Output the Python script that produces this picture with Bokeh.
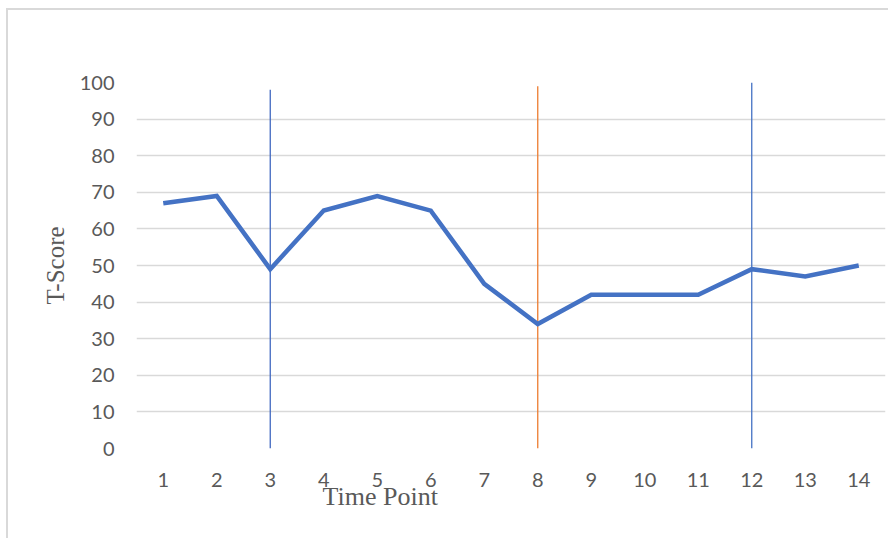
from bokeh.plotting import figure
from bokeh.models import Range1d, FixedTicker, Title, ColumnDataSource
from bokeh.embed import file_html
from bokeh.resources import INLINE

# T-scores recorded at each time point
time_points = list(range(1, 15))
t_scores = [67, 69, 49, 65, 69, 65, 45, 34, 42, 42, 42, 49, 47, 50]

# Phase-change markers: time point, top of marker, colour
marker_points = [3, 8, 12]
marker_tops = [98, 99, 100]
marker_colors = ["#4068C0", "#ED7D31", "#4472C4"]

y_ticks = list(range(0, 101, 10))

p = figure(
    width=882, height=530,
    x_range=Range1d(0.5, 14.5), y_range=Range1d(0, 100),
    output_backend="svg", toolbar_location=None,
    min_border_left=128, min_border_right=5,
    min_border_top=72, min_border_bottom=92,
)
p.styles = {
    "margin-left": "6px", "margin-top": "8px",
    "border-top": "2px solid #d9d9d9", "border-left": "2px solid #d9d9d9",
}
p.outline_line_color = None
p.background_fill_color = "white"
p.border_fill_color = "white"

# axes
p.xaxis.ticker = FixedTicker(ticks=time_points)
p.yaxis.ticker = FixedTicker(ticks=y_ticks)
for ax in (p.xaxis[0], p.yaxis[0]):
    ax.axis_line_color = None
    ax.major_tick_line_color = None
    ax.minor_tick_line_color = None
    ax.major_label_text_font = "Lato"
    ax.major_label_text_font_size = "20px"
    ax.major_label_text_color = "#595959"
p.xaxis.major_label_standoff = 18
p.yaxis.major_label_standoff = 16

p.yaxis.axis_label = "T-Score"
p.yaxis.axis_label_text_font = "Liberation Serif"
p.yaxis.axis_label_text_font_size = "25px"
p.yaxis.axis_label_text_font_style = "normal"
p.yaxis.axis_label_text_color = "#595959"
p.yaxis.axis_label_standoff = 8

p.xgrid.grid_line_color = None
p.ygrid.grid_line_color = "#d9d9d9"
p.ygrid.grid_line_width = 1.5

# phase-change markers
src_m = ColumnDataSource(dict(x=marker_points, top=marker_tops, color=marker_colors,
                              bottom=[0] * len(marker_points)))
p.segment(x0="x", y0="bottom", x1="x", y1="top", color="color", line_width=1.3, source=src_m)

# series
p.line(time_points, t_scores, line_color="#4472C4", line_width=4.5,
       line_join="miter")

# x-axis title, set off to the left and tucked up against the tick labels
p.add_layout(Title(text="Time Point", align="left", offset=186, standoff=-19,
                   text_font="Liberation Serif", text_font_size="26px",
                   text_font_style="normal", text_color="#595959"), "below")

open("out.html", "w").write(file_html(p, INLINE))
